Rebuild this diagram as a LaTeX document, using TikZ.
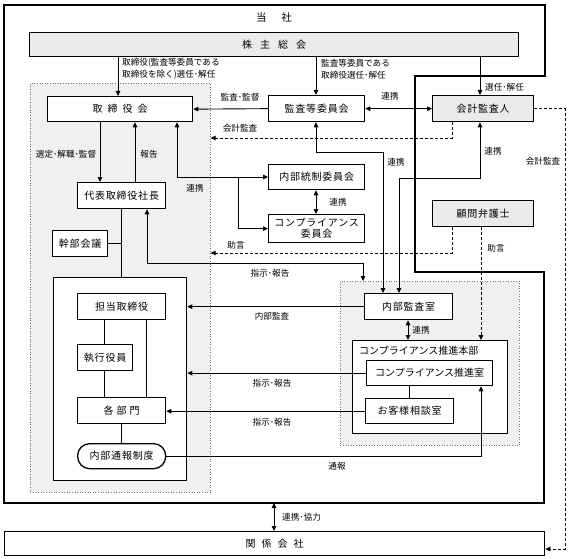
\documentclass[tikz,border=0pt]{standalone}
\usepackage{fontspec}
\setmainfont{Noto Sans CJK JP}
\newfontfamily\boxjp[LetterSpace=8]{Noto Sans CJK JP}
\usetikzlibrary{arrows.meta}
\newcommand\mybxfont{\fontsize{10}{12.5}\selectfont\boxjp}
\newcommand\mylbfont{\fontsize{8.6}{11.8}\selectfont}
\tikzset{
 bx/.style={draw, line width=1.3pt, fill=white, inner sep=0pt, anchor=north west, font=\mybxfont, align=center},
 gbx/.style={bx, fill=black!8},
 region/.style={draw=black!55, dotted, line width=0.6pt, fill=black!6, inner sep=0pt, anchor=north west},
 ln/.style={line width=0.9pt},
 arr/.style={ln, -{Triangle[length=5pt,width=4.5pt]}},
 darr/.style={ln, {Triangle[length=5pt,width=4.5pt]}-{Triangle[length=5pt,width=4.5pt]}},
 dsh/.style={ln, dash pattern=on 3pt off 2pt},
 dsharr/.style={dsh, -{Triangle[length=5pt,width=4.5pt]}},
 lbl/.style={font=\mylbfont, inner sep=0pt, align=left},
}
\begin{document}
\begin{tikzpicture}[x=1pt,y=-1pt]
\useasboundingbox (0,0) rectangle (570,559);
% regions
\node[region, minimum width=180pt, minimum height=409pt] (leftreg) at (30,83) {};
\node[region, minimum width=179pt, minimum height=164pt] (rightreg) at (340,281) {};
% outer company frame
\coordinate (o1) at (4,5);
\coordinate (o2) at (545,5);
\coordinate (o3) at (545,76);
\coordinate (o4) at (415,76);
\coordinate (o5) at (415,272);
\coordinate (o6) at (544,272);
\coordinate (o7) at (544,503);
\coordinate (o8) at (4,503);
\draw[line width=2.2pt, line join=miter] (o1) -- (o2) -- (o3) -- (o4) -- (o5) -- (o6) -- (o7) -- (o8) -- cycle;
\node[font=\fontsize{10.5}{12}\selectfont, inner sep=0pt] (tousha) at (274,18) {当\hspace{15pt}社};
% boxes
\node[gbx, minimum width=489pt, minimum height=24pt] (kabu) at (29,32) {株\hspace{8pt}主\hspace{8pt}総\hspace{8pt}会};
\node[bx, minimum width=145pt, minimum height=25pt] (torikai) at (47,96) {取\hspace{5pt}締\hspace{5pt}役\hspace{5pt}会};
\node[bx, minimum width=96pt, minimum height=26pt] (kansa) at (268,95) {監査等委員会};
\node[gbx, minimum width=101pt, minimum height=26pt] (kaikei) at (432,95) {会計監査人};
\node[bx, minimum width=88pt, minimum height=26pt] (daihyo) at (77,182) {代表取締役社長};
\node[bx, minimum width=96pt, minimum height=25pt] (naibutousei) at (268,164) {内部統制委員会};
\node[bx, minimum width=96pt, minimum height=28pt, font=\fontsize{10}{11}\selectfont\boxjp] (compiinkai) at (268,214) {コンプライアンス\\委員会};
\node[gbx, minimum width=101pt, minimum height=26pt] (komon) at (432,200) {顧問弁護士};
\node[bx, minimum width=55pt, minimum height=26pt] (kanbu) at (52,230) {幹部会議};
\node[bx, minimum width=133pt, minimum height=203pt] (bigwhite) at (53,277) {};
\node[bx, minimum width=88pt, minimum height=26pt] (tanto) at (77,293) {担当取締役};
\node[bx, minimum width=55pt, minimum height=26pt] (shikkou) at (77,344) {執行役員};
\node[bx, minimum width=88pt, minimum height=26pt] (kakubu) at (77,397) {各\hspace{3pt}部\hspace{3pt}門};
\node[bx, minimum width=88pt, minimum height=25pt, rounded corners=12pt] (tsuho) at (77,443) {内部通報制度};
\node[bx, minimum width=88pt, minimum height=26pt] (naibukansa) at (364,293) {内部監査室};
\node[bx, minimum width=155pt, minimum height=93pt] (honbu) at (352,340) {};
\node[lbl, anchor=west, font=\fontsize{10}{12}\selectfont] (honbulbl) at (359,351) {コンプライアンス推進本部};
\node[bx, minimum width=126pt, minimum height=25pt, font=\fontsize{10}{12}\selectfont] (suishin) at (366,360) {コンプライアンス推進室};
\node[bx, minimum width=88pt, minimum height=25pt] (okyaku) at (365,398) {お客様相談室};
\node[bx, minimum width=540pt, minimum height=24pt] (kankei) at (4,531) {関\hspace{6pt}係\hspace{6pt}会\hspace{6pt}社};
% helper x positions
\coordinate (xa) at (118,0);
\coordinate (xb) at (316,0);
\coordinate (xc) at (480,0);
\coordinate (xc2) at (481,0);
\coordinate (xd) at (100,0);
\coordinate (xe) at (135,0);
\coordinate (xm) at (121,0);
\coordinate (xv) at (104,0);
\coordinate (xw) at (146,0);
\coordinate (xy) at (408,0);
\coordinate (xy2) at (409,0);
\coordinate (xz) at (274,0);
% connectors from shareholders meeting
\draw[arr] (kabu.south -| xa) -- (torikai.north -| xa);
\draw[arr] (kabu.south -| xb) -- (kansa.north -| xb);
\draw[arr] (kabu.south -| xc) -- (kaikei.north -| xc);
\node[lbl, anchor=west] (lba) at (122,69) {取締役(監査等委員である\\取締役を除く)選任･解任};
\node[lbl, anchor=west] (lbb) at (321,69) {監査等委員である\\取締役選任･解任};
\node[lbl, anchor=west] (lbc) at (485,87) {選任･解任};
% audit committee
\draw[arr] (kansa.west) -- (torikai.east);
\node[lbl] (lbd) at (240,97) {監査･監督};
\draw[darr] (kansa.east) -- (kaikei.west);
\node[lbl] (lbe) at (390,96) {連携};
% accounting audit dashed
\coordinate (ka1) at (452,138);
\draw[dsharr] (kaikei.south -| ka1) |- (leftreg.east |- ka1);
\node[lbl] (lbf) at (240,128) {会計監査};
\coordinate (kk) at (565,549);
\draw[dsharr] (kaikei.east) -| (kk) -- (kankei.east |- kk);
\node[lbl] (lbg) at (543,161) {会計監査};
% board <-> president
\draw[arr] (torikai.south -| xd) -- (daihyo.north -| xd);
\node[lbl] (lbh) at (66,154) {選定･解職･監督};
\draw[arr] (daihyo.north -| xe) -- (torikai.south -| xe);
\node[lbl] (lbi) at (149,154) {報告};
% cooperation with committees
\coordinate (rj) at (177,177);
\coordinate (rb) at (238,177);
\draw[arr] (rj) -- (torikai.south -| rj);
\draw[arr] (rj) -- (naibutousei.west |- rj);
\draw[arr] (rb) |- (compiinkai.west);
\node[lbl] (lbj) at (195,188) {連携};
\draw[darr] (naibutousei.south -| xb) -- (compiinkai.north -| xb);
\node[lbl] (lbk) at (338,202) {連携};
% cooperation to internal audit office
\coordinate (l1) at (383,152);
\draw[darr] (kansa.south -| xb) |- (l1) -- (naibukansa.north -| l1);
\node[lbl] (lbl1) at (396,162) {連携};
\coordinate (l2) at (399,178);
\draw[darr] (kaikei.south -| xc) |- (l2) -- (naibukansa.north -| l2);
\node[lbl] (lbl2) at (493,151) {連携};
% legal advisor
\coordinate (k1) at (452,253);
\draw[dsharr] (komon.south -| k1) |- (leftreg.east |- k1);
\node[lbl] (lbn) at (236,245) {助言};
\draw[dsharr] (komon.south -| xc2) -- (honbu.north -| xc2);
\node[lbl] (lbo) at (496,248) {助言};
% president <-> compliance region
\coordinate (p1) at (147,263);
\coordinate (p2) at (363,263);
\draw[darr] (daihyo.south -| p1) -- (p1) -- (p2) -- (rightreg.north -| p2);
\node[lbl] (lbp) at (270,273) {指示･報告};
% president tree
\draw[ln] (daihyo.south -| xm) -- (bigwhite.north -| xm);
\draw[ln] (kanbu.east) -- (kanbu.east -| xm);
% lines to the left
\draw[arr] (naibukansa.west) -- (bigwhite.east |- naibukansa.west);
\node[lbl] (lbs) at (272,316) {内部監査};
\draw[arr] (suishin.west) -- (bigwhite.east |- suishin.west);
\node[lbl] (lbt) at (272,383) {指示･報告};
\draw[arr] (okyaku.west) -- (kakubu.east |- okyaku.west);
\node[lbl] (lbu) at (272,422) {指示･報告};
% inner tree
\draw[ln] (tanto.south -| xv) -- (shikkou.north -| xv);
\draw[ln] (shikkou.south -| xv) -- (kakubu.north -| xv);
\draw[ln] (tanto.south -| xw) -- (kakubu.north -| xw);
\draw[ln] (kakubu.south -| xm) -- (tsuho.north -| xm);
% whistleblowing
\draw[arr] (tsuho.east) -| (suishin.south -| xc2);
\node[lbl] (lbx) at (337,466) {通報};
% compliance HQ
\draw[darr] (naibukansa.south -| xy) -- (honbu.north -| xy);
\node[lbl] (lby) at (421,330) {連携};
\draw[ln] (suishin.south -| xy2) -- (okyaku.north -| xy2);
% affiliates
\coordinate (ob) at (274,503);
\draw[darr] (ob) -- (kankei.north -| ob);
\node[lbl, anchor=west] (lbz) at (282,517) {連携･協力};
\end{tikzpicture}
\end{document}
